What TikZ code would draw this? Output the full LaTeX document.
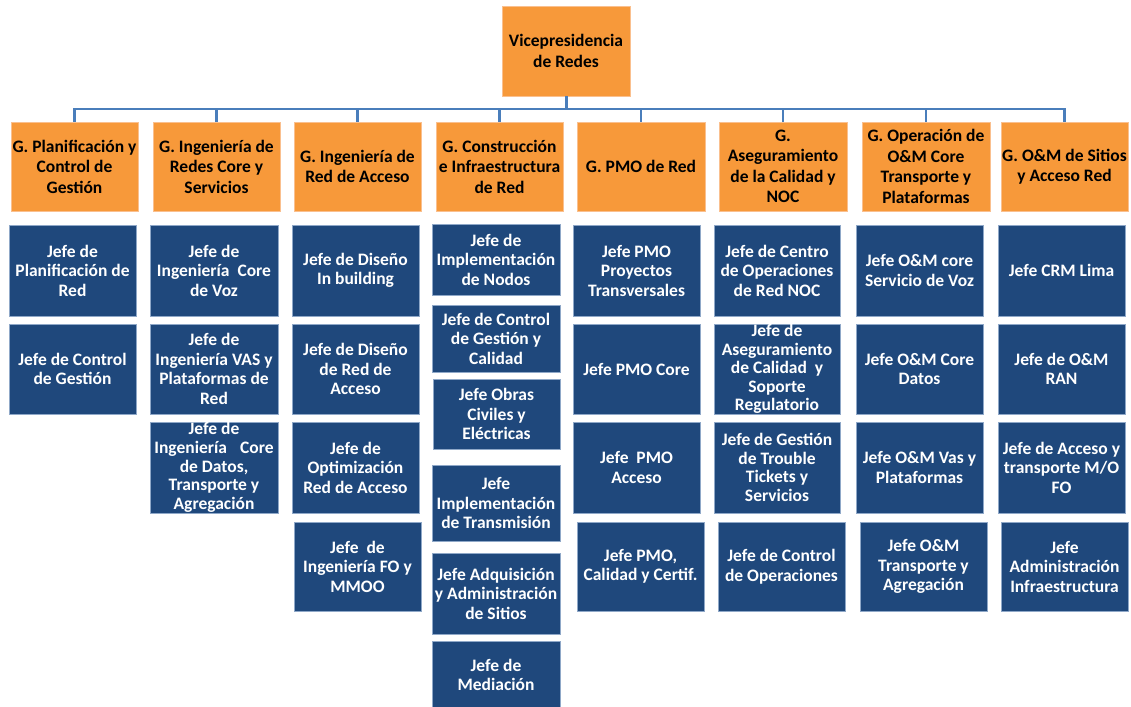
\documentclass[tikz,border=0pt]{standalone}
\usepackage{fontspec}
\setmainfont{Carlito}
\definecolor{orgfill}{HTML}{F7993A}
\definecolor{orgedge}{HTML}{FAC08F}
\definecolor{bluefill}{HTML}{1F487C}
\definecolor{blueedge}{HTML}{8FA8C8}
\definecolor{connclr}{HTML}{4A7EBB}
\begin{document}
\begin{tikzpicture}[x=1pt,y=-1pt,
  obox/.style={rectangle, inner sep=0pt, align=center, fill=orgfill, draw=orgedge, line width=0.8pt,
     text=black, font=\fontsize{17.5}{20.5}\selectfont\bfseries},
  bbox/.style={rectangle, inner sep=0pt, align=center, fill=bluefill, draw=blueedge, line width=0.8pt,
     text=white, font=\fontsize{17.5}{19.5}\selectfont\bfseries},
  tight/.style={font=\fontsize{17.5}{18.6}\selectfont\bfseries},
  conn/.style={draw=connclr, line width=2.2pt},
  sz/.style 2 args={minimum width=#1pt, minimum height=#2pt}]
\useasboundingbox (0,0) rectangle (1131,706);
\fill[white] (0,0) rectangle (1131,706);

% top
\node[obox, sz={128}{90}] (top) at (566,51) {Vicepresidencia\\de Redes};
\coordinate (hub) at (566,108.7);

% level 2
\node[obox, sz={127}{89}] (o1) at (74.5,166.5) {G. Planificación y\\Control de\\Gestión};
\node[obox, sz={127}{89}] (o2) at (216.5,166.5) {G. Ingeniería de\\Redes Core y\\Servicios};
\node[obox, sz={127}{89}] (o3) at (357.5,166.5) {G. Ingeniería de\\Red de Acceso};
\node[obox, sz={127}{89}] (o4) at (499.5,166.5) {G. Construcción\\e Infraestructura\\de Red};
\node[obox, sz={128}{89}] (o5) at (641,166.5) {G. PMO de Red};
\node[obox, sz={128}{89}] (o6) at (783,166.5) {G.\\Aseguramiento\\de la Calidad y\\NOC};
\node[obox, sz={128}{89}] (o7) at (926,166.5) {G. Operación de\\O\&M Core\\Transporte y\\Plataformas};
\node[obox, sz={127}{89}] (o8) at (1064.5,166.5) {G. O\&M de Sitios\\y Acceso Red};

% connectors
\draw[conn, line width=3pt] (top.south) -- (hub);
\foreach \n in {o1,o2,o3,o4,o5,o6,o7,o8} {\draw[conn] (\n.north) |- (hub);}

% column 1
\node[bbox, sz={127}{91}] (c1r1) at (72.5,270.5) {Jefe de\\Planificación de\\Red};
\node[bbox, sz={127}{90}] (c1r2) at (72.5,369) {Jefe de Control\\de Gestión};
% column 2
\node[bbox, sz={128}{91}] (c2r1) at (214,270.5) {Jefe de\\Ingeniería~ Core\\de Voz};
\node[bbox, sz={128}{90}] (c2r2) at (214,369) {Jefe de\\Ingeniería VAS y\\Plataformas de\\Red};
\node[bbox, tight, sz={128}{91}] (c2r3) at (214,467.5) {Jefe de\\Ingeniería\hspace{0.75em}Core\\de Datos,\\Transporte y\\Agregación};
% column 3
\node[bbox, sz={127}{91}] (c3r1) at (355.5,270.5) {Jefe de Diseño\\In building};
\node[bbox, sz={127}{90}] (c3r2) at (355.5,369) {Jefe de Diseño\\de Red de\\Acceso};
\node[bbox, sz={127}{91}] (c3r3) at (355.5,467.5) {Jefe de\\Optimización\\Red de Acceso};
\node[bbox, sz={127}{89}] (c3r4) at (357.5,566.5) {Jefe~ de\\Ingeniería FO y\\MMOO};
% column 4
\node[bbox, sz={128}{71}] (c4r1) at (496,259.5) {Jefe de\\Implementación\\de Nodos};
\node[bbox, sz={128}{67}] (c4r2) at (496,338.5) {Jefe de Control\\de Gestión y\\Calidad};
\node[bbox, sz={127}{70}] (c4r3) at (496.5,414) {Jefe Obras\\Civiles y\\Eléctricas};
\node[bbox, sz={128}{76}] (c4r4) at (496,503) {Jefe\\Implementación\\de Transmisión};
\node[bbox, sz={128}{81}] (c4r5) at (496,593.5) {Jefe Adquisición\\y Administración\\de Sitios};
\node[bbox, sz={128}{68}] (c4r6) at (496,675) {Jefe de\\Mediación};
% column 5
\node[bbox, sz={127}{91}] (c5r1) at (636.5,270.5) {Jefe PMO\\Proyectos\\Transversales};
\node[bbox, sz={127}{90}] (c5r2) at (636.5,369) {Jefe PMO Core};
\node[bbox, sz={127}{91}] (c5r3) at (636.5,467.5) {Jefe~ PMO\\Acceso};
\node[bbox, sz={127}{89}] (c5r4) at (640.5,566.5) {Jefe PMO,\\Calidad y Certif.};
% column 6
\node[bbox, sz={126}{91}] (c6r1) at (777,270.5) {Jefe de Centro\\de Operaciones\\de Red NOC};
\node[bbox, tight, sz={126}{90}] (c6r2) at (777,369) {Jefe de\\Aseguramiento\\de Calidad~ y\\Soporte\\Regulatorio};
\node[bbox, tight, sz={126}{91}] (c6r3) at (777,467.5) {Jefe de Gestión\\de Trouble\\Tickets y\\Servicios};
\node[bbox, sz={127}{89}] (c6r4) at (781.5,566.5) {Jefe de Control\\de Operaciones};
% column 7
\node[bbox, sz={127}{91}] (c7r1) at (919.5,270.5) {Jefe O\&M core\\Servicio de Voz};
\node[bbox, sz={127}{90}] (c7r2) at (919.5,369) {Jefe O\&M Core\\Datos};
\node[bbox, sz={127}{91}] (c7r3) at (919.5,467.5) {Jefe O\&M Vas y\\Plataformas};
\node[bbox, sz={127}{89}] (c7r4) at (923.5,566.5) {Jefe O\&M\\Transporte y\\Agregación};
% column 8
\node[bbox, sz={127}{91}] (c8r1) at (1061.5,270.5) {Jefe CRM Lima};
\node[bbox, sz={127}{90}] (c8r2) at (1061.5,369) {Jefe de O\&M\\RAN};
\node[bbox, sz={127}{91}] (c8r3) at (1061.5,467.5) {Jefe de Acceso y\\transporte M/O\\FO};
\node[bbox, sz={127}{89}] (c8r4) at (1064.5,566.5) {Jefe\\Administración\\Infraestructura};
\end{tikzpicture}
\end{document}
